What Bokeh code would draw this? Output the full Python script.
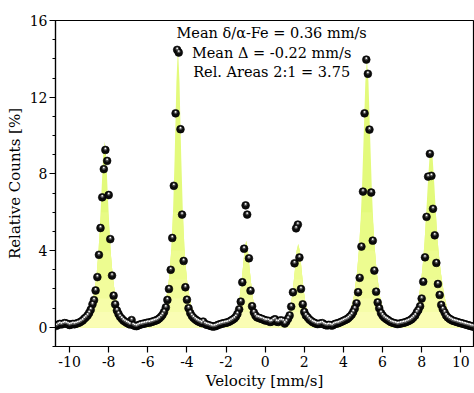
from bokeh.plotting import figure
from bokeh.models import FixedTicker, Range1d, Label
from bokeh.embed import file_html
from bokeh.resources import INLINE
import numpy as np

# ---- measured spectrum (velocity in mm/s, relative counts in %) ----
velocity = [
    -10.67, -10.58, -10.50, -10.42, -10.33, -10.25, -10.17, -10.08,
    -10.00, -9.92, -9.83, -9.75, -9.67, -9.58, -9.50, -9.42, -9.33, -9.25, -9.17, -9.08,
    -9.00, -8.92, -8.83, -8.75, -8.67, -8.58, -8.50, -8.42, -8.33, -8.25, -8.17, -8.08,
    -8.00, -7.92, -7.83, -7.75, -7.67, -7.58, -7.50, -7.42, -7.33, -7.25, -7.17, -7.08,
    -7.00, -6.92, -6.83, -6.75, -6.67, -6.58, -6.50, -6.42, -6.33, -6.25, -6.17, -6.08,
    -6.00, -5.92, -5.83, -5.75, -5.67, -5.58, -5.50, -5.42, -5.33, -5.25, -5.17, -5.08,
    -5.00, -4.92, -4.83, -4.75, -4.67, -4.58, -4.50, -4.42, -4.33, -4.25, -4.17, -4.08,
    -4.00, -3.92, -3.83, -3.75, -3.67, -3.58, -3.50, -3.42, -3.33, -3.25, -3.17, -3.08,
    -3.00, -2.92, -2.83, -2.75, -2.67, -2.58, -2.50, -2.42, -2.33, -2.25, -2.17, -2.08,
    -2.00, -1.92, -1.83, -1.75, -1.67, -1.58, -1.50, -1.42, -1.33, -1.25, -1.17, -1.08,
    -1.00, -0.92, -0.83, -0.75, -0.67, -0.58, -0.50, -0.42, -0.33, -0.25, -0.17, -0.08,
    0.00, 0.08, 0.17, 0.25, 0.33, 0.42, 0.50, 0.58, 0.67, 0.75, 0.83, 0.92,
    1.00, 1.08, 1.17, 1.25, 1.33, 1.42, 1.50, 1.58, 1.67, 1.75, 1.83, 1.92,
    2.00, 2.08, 2.17, 2.25, 2.33, 2.42, 2.50, 2.58, 2.67, 2.75, 2.83, 2.92,
    3.00, 3.08, 3.17, 3.25, 3.33, 3.42, 3.50, 3.58, 3.67, 3.75, 3.83, 3.92,
    4.00, 4.08, 4.17, 4.25, 4.33, 4.42, 4.50, 4.58, 4.67, 4.75, 4.83, 4.92,
    5.00, 5.08, 5.17, 5.25, 5.33, 5.42, 5.50, 5.58, 5.67, 5.75, 5.83, 5.92,
    6.00, 6.08, 6.17, 6.25, 6.33, 6.42, 6.50, 6.58, 6.67, 6.75, 6.83, 6.92,
    7.00, 7.08, 7.17, 7.25, 7.33, 7.42, 7.50, 7.58, 7.67, 7.75, 7.83, 7.92,
    8.00, 8.08, 8.17, 8.25, 8.33, 8.42, 8.50, 8.58, 8.67, 8.75, 8.83, 8.92,
    9.00, 9.08, 9.17, 9.25, 9.33, 9.42, 9.50, 9.58, 9.67, 9.75, 9.83, 9.92,
    10.00, 10.08, 10.17, 10.25, 10.33, 10.42, 10.50, 10.58, 10.67,
]
counts = [
    0.08, 0.14, 0.18, 0.15, 0.19, 0.22, 0.20, 0.16,
    0.12, 0.15, 0.18, 0.16, 0.19, 0.22, 0.25, 0.30, 0.36, 0.45, 0.52, 0.62,
    0.75, 0.92, 1.20, 1.42, 1.92, 2.62, 3.78, 5.18, 6.78, 8.25, 9.25, 8.68,
    6.90, 4.60, 2.70, 1.65, 1.20, 0.88, 0.70, 0.55, 0.45, 0.36, 0.30, 0.24,
    0.20, 0.15, 0.38, 0.12, 0.08, 0.06, 0.10, 0.14, 0.16, 0.18, 0.20, 0.22,
    0.25, 0.24, 0.28, 0.30, 0.33, 0.36, 0.40, 0.46, 0.55, 0.65, 0.80, 1.04,
    1.43, 2.00, 3.00, 4.66, 7.38, 11.16, 14.47, 14.33, 10.33, 5.88, 3.46, 2.09,
    1.44, 1.00, 0.75, 0.60, 0.50, 0.42, 0.36, 0.31, 0.27, 0.22, 0.30, 0.18,
    0.14, 0.12, 0.09, 0.06, 0.04, 0.05, 0.08, 0.12, 0.15, 0.18, 0.20, 0.22,
    0.24, 0.26, 0.30, 0.35, 0.40, 0.46, 0.55, 0.70, 0.94, 1.34, 2.35, 4.10,
    6.36, 5.88, 3.60, 1.91, 1.10, 0.78, 0.62, 0.52, 0.50, 0.46, 0.44, 0.40,
    0.36, 0.35, 0.34, 0.28, 0.30, 0.38, 0.42, 0.30, 0.28, 0.35, 0.36, 0.32,
    0.20, 0.30, 0.45, 0.62, 1.08, 1.83, 3.34, 5.16, 5.36, 3.64, 2.00, 1.20,
    0.80, 0.62, 0.52, 0.42, 0.35, 0.28, 0.24, 0.20, 0.17, 0.18, 0.20, 0.22,
    0.16, 0.12, 0.10, 0.13, 0.11, 0.09, 0.14, 0.18, 0.20, 0.22, 0.26, 0.30,
    0.34, 0.38, 0.42, 0.48, 0.56, 0.66, 0.80, 0.98, 1.25, 1.83, 2.58, 4.21,
    7.08, 11.16, 13.96, 13.22, 10.31, 7.03, 4.52, 2.96, 1.86, 1.30, 1.00, 0.75,
    0.62, 0.52, 0.45, 0.40, 0.34, 0.28, 0.25, 0.22, 0.20, 0.17, 0.18, 0.20,
    0.22, 0.24, 0.26, 0.30, 0.33, 0.38, 0.44, 0.52, 0.62, 0.78, 0.90, 1.10,
    1.50, 2.38, 3.65, 5.76, 7.86, 9.05, 7.90, 6.18, 4.80, 3.36, 2.26, 1.69,
    1.17, 0.95, 0.78, 0.62, 0.52, 0.45, 0.40, 0.35, 0.32, 0.30, 0.27, 0.24,
    0.22, 0.20, 0.17, 0.15, 0.12, 0.10, 0.07, 0.05, 0.03,
]

# ---- fitted sextet envelope ----
fit_velocity = [
    -10.70, -10.20, -9.80, -9.50, -9.30, -9.21, -9.04, -8.88, -8.71, -8.63, -8.54, -8.46,
    -8.38, -8.29, -8.21, -8.13, -8.04, -7.96, -7.88, -7.79, -7.71, -7.54, -7.38, -7.20,
    -7.00, -6.70, -6.30, -6.00, -5.70, -5.46, -5.29, -5.13, -4.96, -4.88, -4.79, -4.71,
    -4.63, -4.54, -4.46, -4.38, -4.29, -4.21, -4.13, -4.04, -3.96, -3.79, -3.63, -3.46,
    -3.20, -2.90, -2.60, -2.30, -2.00, -1.80, -1.64, -1.47, -1.39, -1.30, -1.22, -1.14,
    -1.05, -0.97, -0.89, -0.80, -0.72, -0.64, -0.55, -0.47, -0.30, 0.00, 0.50, 1.00,
    1.19, 1.27, 1.36, 1.44, 1.52, 1.61, 1.69, 1.77, 1.86, 1.94, 2.02, 2.11,
    2.19, 2.36, 2.60, 3.00, 3.40, 3.80, 4.10, 4.20, 4.37, 4.53, 4.70, 4.78,
    4.87, 4.95, 5.03, 5.12, 5.20, 5.28, 5.37, 5.45, 5.53, 5.62, 5.70, 5.87,
    6.03, 6.20, 6.50, 6.80, 7.10, 7.40, 7.65, 7.81, 7.98, 8.06, 8.15, 8.23,
    8.31, 8.40, 8.48, 8.56, 8.65, 8.73, 8.81, 8.90, 8.98, 9.15, 9.31, 9.48,
    9.80, 10.20, 10.70,
]
fit_counts = [
    0.10, 0.18, 0.18, 0.27, 0.40, 0.50, 0.75, 1.15, 2.00, 2.65, 3.70, 5.05,
    6.80, 8.86, 9.70, 8.86, 6.80, 5.05, 3.70, 2.65, 2.00, 1.15, 0.70, 0.42,
    0.28, 0.18, 0.18, 0.24, 0.32, 0.48, 0.70, 1.15, 2.10, 2.95, 4.20, 6.05,
    8.82, 12.75, 14.60, 12.75, 8.82, 6.05, 4.20, 2.95, 2.10, 1.15, 0.70, 0.45,
    0.30, 0.15, 0.10, 0.18, 0.25, 0.32, 0.45, 0.75, 1.05, 1.60, 2.30, 3.10,
    4.10, 4.52, 4.10, 3.10, 2.30, 1.60, 1.05, 0.80, 0.55, 0.40, 0.36, 0.40,
    0.70, 1.00, 1.50, 2.20, 3.00, 4.00, 4.35, 4.00, 3.00, 2.20, 1.50, 1.00,
    0.75, 0.45, 0.25, 0.15, 0.12, 0.22, 0.40, 0.50, 0.90, 1.60, 2.90, 3.90,
    5.36, 7.27, 9.81, 12.79, 14.00, 12.79, 9.81, 7.27, 5.36, 3.90, 2.90, 1.60,
    0.90, 0.50, 0.28, 0.18, 0.25, 0.38, 0.70, 1.20, 2.50, 3.30, 4.50, 5.90,
    7.40, 8.85, 9.30, 8.85, 7.40, 5.90, 4.60, 3.60, 2.85, 1.70, 0.95, 0.55,
    0.30, 0.18, 0.05,
]

x_ticks = [-10, -8, -6, -4, -2, 0, 2, 4, 6, 8, 10]
y_ticks = [0, 4, 8, 12, 16]
y_minor_ticks = list(range(-1, 17))
notes = ["Mean \u03b4/\u03b1-Fe = 0.36 mm/s", "Mean \u0394 = -0.22 mm/s", "Rel. Areas 2:1 = 3.75"]

assert len(velocity) == len(counts), (len(velocity), len(counts))
assert len(fit_velocity) == len(fit_counts), (len(fit_velocity), len(fit_counts))

FONT = "DejaVu Serif"

p = figure(width=474, height=393, x_range=Range1d(-10.72, 10.65), y_range=Range1d(-1, 16),
           output_backend="svg", toolbar_location=None,
           min_border_left=55, min_border_right=1, min_border_top=20, min_border_bottom=47)
p.xgrid.visible = False
p.ygrid.visible = False
p.outline_line_color = "black"
p.outline_line_width = 1.2
p.background_fill_color = "white"
p.border_fill_color = "white"

# yellow fit envelope with a soft vertical gradient (paler near the baseline)
fx = np.array(fit_velocity)
fy = np.array(fit_counts)
bands = [(None, "#E3FA7B"), (6.0, "#E8FB85"), (4.0, "#EDFC90"), (2.5, "#F2FC9C"),
         (1.5, "#F6FDA8"), (0.8, "#FAFDB4")]
for lvl, col in bands:
    top = fy if lvl is None else np.minimum(fy, lvl)
    p.varea(x=fx, y1=np.zeros_like(fy), y2=top, fill_color=col, fill_alpha=1.0)

# data points drawn as shaded spheres
vx = np.array(velocity)
vy = np.array(counts)
p.scatter(vx, vy, size=7.8, fill_color="#0c0c0c", line_color="#000000", line_width=0.6)
p.scatter(vx, vy + 0.05, size=3.6, fill_color="#5c5c5c", line_color=None, fill_alpha=0.85)
p.scatter(vx, vy + 0.08, size=1.7, fill_color="#ffffff", line_color=None)

p.xaxis.ticker = FixedTicker(ticks=x_ticks, minor_ticks=[])
p.xaxis.major_label_overrides = {t: str(t) for t in x_ticks}
p.yaxis.ticker = FixedTicker(ticks=y_ticks, minor_ticks=y_minor_ticks)
p.xaxis.axis_label = "Velocity [mm/s]"
p.yaxis.axis_label = "Relative Counts [%]"
for ax in (p.xaxis[0], p.yaxis[0]):
    ax.axis_line_width = 1.2
    ax.axis_line_color = "black"
    ax.major_tick_line_width = 1.2
    ax.minor_tick_line_width = 1.2
    ax.major_tick_line_color = "black"
    ax.minor_tick_line_color = "black"
    ax.major_tick_out = 6
    ax.major_tick_in = 0
    ax.minor_tick_out = 3
    ax.minor_tick_in = 0
    ax.major_label_text_font = FONT
    ax.major_label_text_font_size = "14px"
    ax.major_label_text_color = "black"
    ax.axis_label_text_font = FONT
    ax.axis_label_text_font_size = "15px"
    ax.axis_label_text_font_style = "normal"
    ax.axis_label_text_color = "black"
p.xaxis.major_label_standoff = 3
p.xaxis.axis_label_standoff = 2
p.yaxis.major_label_standoff = 2
p.yaxis.axis_label_standoff = 3

for i, t in enumerate(notes):
    p.add_layout(Label(x=0.33, y=15.37 - 1.04 * i, text=t, text_align="center",
                       text_baseline="middle", text_font=FONT, text_font_size="14.5px",
                       text_color="black"))

open("out.html", "w").write(file_html(p, INLINE))
